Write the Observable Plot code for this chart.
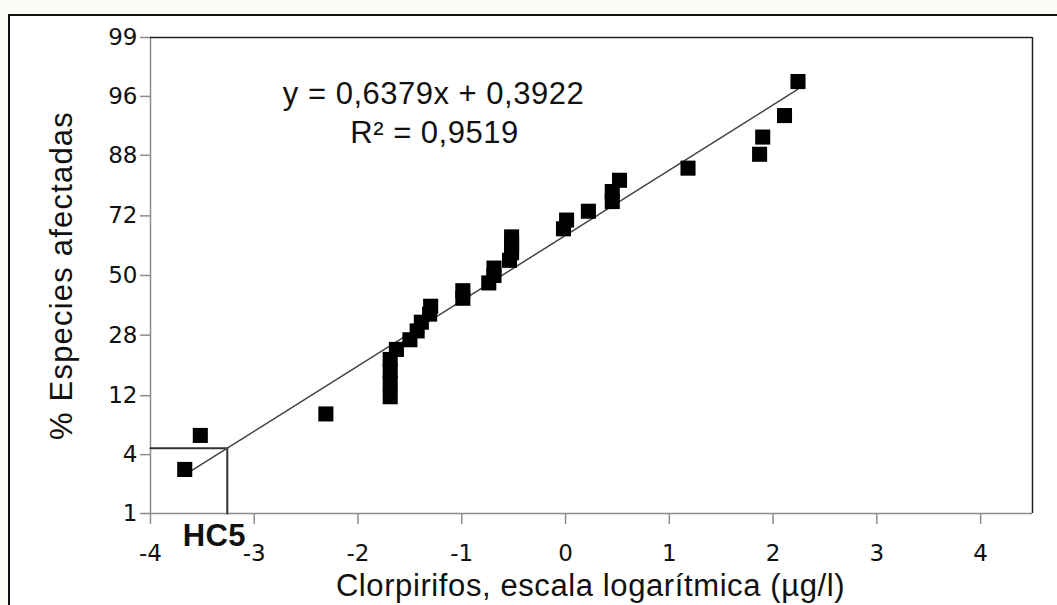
<!DOCTYPE html>
<html><head><meta charset="utf-8">
<script src="https://cdn.jsdelivr.net/npm/d3@7"></script>
<script src="https://cdn.jsdelivr.net/npm/@observablehq/plot@0.6"></script>
<style>
html,body{margin:0;padding:0;background:#fcfbf7;width:1057px;height:605px;overflow:hidden}
#box{position:absolute;left:8px;top:14px;width:1100px;height:700px;border:2px solid #111;background:#fff}
#chart{position:absolute;left:0;top:0}
#chart g[aria-label^="y-axis"] line,#chart g[aria-label^="y-axis"] path,
#chart g[aria-label^="x-axis"] line,#chart g[aria-label^="x-axis"] path{stroke:#8c8c8c;stroke-width:1.5}
#chart g[aria-label^="y-axis"] text,#chart g[aria-label^="x-axis"] text{fill:#111}
</style></head><body><div id="box"></div><div id="chart"></div>
<script>
// log10 concentration of chlorpyrifos (µg/l), species ranked
const logConc = [-3.67, -3.52, -2.31, -1.69, -1.69, -1.69, -1.69, -1.63, -1.50, -1.43, -1.39,
  -1.31, -1.30, -0.99, -0.99, -0.74, -0.69, -0.69, -0.54, -0.52, -0.52, -0.52, -0.02, 0.01,
  0.22, 0.45, 0.45, 0.52, 1.18, 1.87, 1.90, 2.11, 2.24];
// % species affected (plotting position)
const pctAffected = [2.9, 5.9, 8.8, 11.8, 14.7, 17.6, 20.6, 23.5, 26.5, 29.4, 32.4, 35.3, 38.2,
  41.2, 44.1, 47.1, 50.0, 52.9, 55.9, 58.8, 61.8, 64.7, 67.6, 70.6, 73.5, 76.5, 79.4, 82.4,
  85.3, 88.2, 91.2, 94.1, 97.1];
const yTickLabels = [1, 4, 12, 28, 50, 72, 88, 96, 99];
const xTicks = [-4, -3, -2, -1, 0, 1, 2, 3, 4];
const slope = 0.6379, intercept = 0.3922;
const hc5LogConc = -3.26;
const eqText = "y = 0,6379x + 0,3922";
const r2Text = "R² = 0,9519";
const hc5Text = "HC5";
const xLabel = "Clorpirifos, escala logarítmica (µg/l)";
const yLabel = "% Especies afectadas";

// inverse normal CDF (probit) of a percentage
function probit(pct) {
  const p = pct / 100;
  const a = [-3.969683028665376e+01, 2.209460984245205e+02, -2.759285104469687e+02, 1.383577518672690e+02, -3.066479806614716e+01, 2.506628277459239e+00];
  const b = [-5.447609879822406e+01, 1.615858368580409e+02, -1.556989798598866e+02, 6.680131188771972e+01, -1.328068155288572e+01];
  const c = [-7.784894002430293e-03, -3.223964580411365e-01, -2.400758277161838e+00, -2.549732539343734e+00, 4.374664141464968e+00, 2.938163982698783e+00];
  const d = [7.784695709041462e-03, 3.224671290700398e-01, 2.445134137142996e+00, 3.754408661907416e+00];
  const plow = 0.02425;
  let q, r;
  if (p < plow) { q = Math.sqrt(-2 * Math.log(p)); return (((((c[0]*q+c[1])*q+c[2])*q+c[3])*q+c[4])*q+c[5])/((((d[0]*q+d[1])*q+d[2])*q+d[3])*q+1); }
  if (p > 1 - plow) { q = Math.sqrt(-2 * Math.log(1 - p)); return -(((((c[0]*q+c[1])*q+c[2])*q+c[3])*q+c[4])*q+c[5])/((((d[0]*q+d[1])*q+d[2])*q+d[3])*q+1); }
  q = p - 0.5; r = q * q;
  return (((((a[0]*r+a[1])*r+a[2])*r+a[3])*r+a[4])*r+a[5])*q/(((((b[0]*r+b[1])*r+b[2])*r+b[3])*r+b[4])*r+1);
}

const points = logConc.map((x, i) => ({x, z: probit(pctAffected[i])}));
const yTickZ = yTickLabels.map(probit);
const zLabel = new Map(yTickZ.map((z, i) => [z, String(yTickLabels[i])]));
const zMin = probit(yTickLabels[0]), zMax = probit(yTickLabels[yTickLabels.length - 1]);
const xMin = d3.min(logConc), xMax = d3.max(logConc);
const fitLine = [xMin, xMax].map(x => ({x, z: slope * x + intercept}));
const hc5Z = slope * hc5LogConc + intercept;
const hc5Path = [{x: xTicks[0], z: hc5Z}, {x: hc5LogConc, z: hc5Z}, {x: hc5LogConc, z: zMin}];

const textFont = "Liberation Sans, Arial, sans-serif";
const chart = Plot.plot({
  width: 1057, height: 605,
  marginLeft: 150, marginRight: 25, marginTop: 37, marginBottom: 92,
  style: {fontFamily: "DejaVu Sans, sans-serif", fontSize: "23px", background: "transparent", overflow: "visible", color: "#111"},
  x: {domain: [-4, 4.5], ticks: xTicks, tickFormat: d => String(d), tickSize: 11, tickPadding: 20, label: null},
  y: {domain: [zMin, zMax], ticks: yTickZ, tickFormat: z => zLabel.get(z), tickSize: 10, tickPadding: 3, label: null},
  marks: [
    Plot.ruleX([-4], {stroke: "#8c8c8c", strokeWidth: 1.5}),
    Plot.ruleY([zMin], {stroke: "#8c8c8c", strokeWidth: 1.5}),
    Plot.ruleY([zMax], {stroke: "#222", strokeWidth: 1.5}),
    Plot.ruleX([4.5], {stroke: "#222", strokeWidth: 1.5}),
    Plot.line(hc5Path, {x: "x", y: "z", stroke: "#333", strokeWidth: 2}),
    Plot.line(fitLine, {x: "x", y: "z", stroke: "#444", strokeWidth: 1.5}),
    Plot.dot(points, {x: "x", y: "z", symbol: "square", r: 8.5, fill: "#000", stroke: null}),
    Plot.text([eqText], {text: d => d, frameAnchor: "top", dx: -158, dy: 66, lineAnchor: "bottom", fontSize: 31, fontFamily: textFont, fill: "#111"}),
    Plot.text([r2Text], {text: d => d, frameAnchor: "top", dx: -157, dy: 105, lineAnchor: "bottom", fontSize: 31, fontFamily: textFont, fill: "#111"}),
    Plot.text([{x: hc5LogConc, t: hc5Text}], {x: "x", text: "t", frameAnchor: "bottom", dx: -13, dy: 32, lineAnchor: "bottom", fontSize: 31, fontWeight: "bold", fontFamily: textFont, fill: "#111"}),
    Plot.text([xLabel], {text: d => d, frameAnchor: "bottom", dx: -1, dy: 82, lineAnchor: "bottom", fontSize: 31, fontFamily: textFont, fill: "#111"}),
    Plot.text([yLabel], {text: d => d, frameAnchor: "left", textAnchor: "middle", dx: -88, rotate: -90, lineAnchor: "middle", fontSize: 31, fontFamily: textFont, fill: "#111"})
  ]
});
// slightly wider letter spacing, as in the reference rendering
const spacing = new Map([[eqText, "0.5px"], [r2Text, "0.5px"], [xLabel, "0.6px"], [yLabel, "1.2px"], [hc5Text, "0.3px"]]);
d3.select(chart).selectAll('g[aria-label="text"] text').each(function() {
  const s = spacing.get(this.textContent);
  if (s) this.style.letterSpacing = s;
});
document.getElementById("chart").appendChild(chart);
</script></body></html>
